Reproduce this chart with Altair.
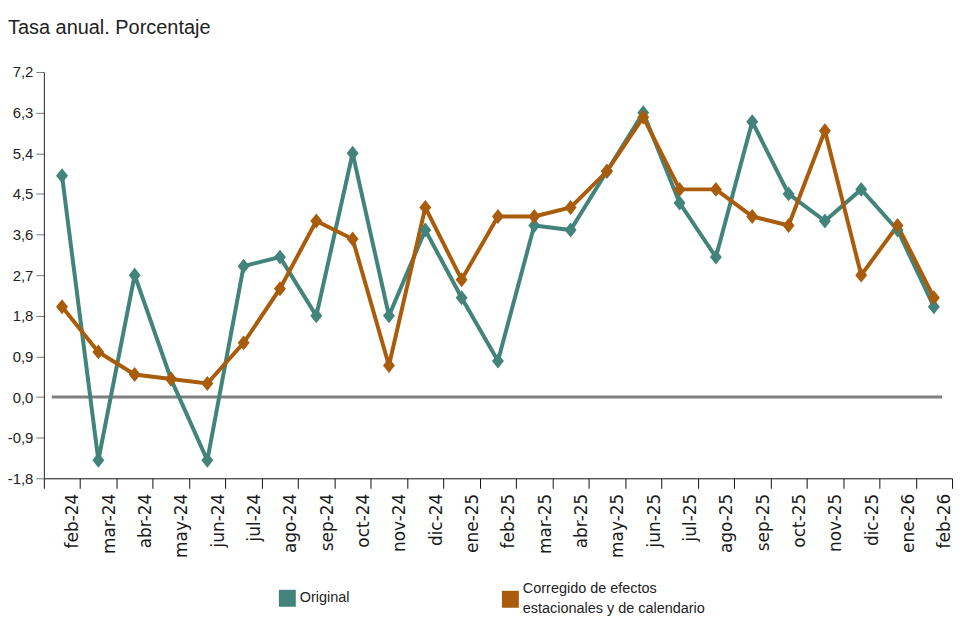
import altair as alt
import pandas as pd

months = ["feb-24", "mar-24", "abr-24", "may-24", "jun-24", "jul-24", "ago-24", "sep-24",
          "oct-24", "nov-24", "dic-24", "ene-25", "feb-25", "mar-25", "abr-25", "may-25",
          "jun-25", "jul-25", "ago-25", "sep-25", "oct-25", "nov-25", "dic-25", "ene-26", "feb-26"]
original = [4.9, -1.4, 2.7, 0.4, -1.4, 2.9, 3.1, 1.8, 5.4, 1.8, 3.7, 2.2, 0.8, 3.8, 3.7,
            5.0, 6.3, 4.3, 3.1, 6.1, 4.5, 3.9, 4.6, 3.7, 2.0]
corregido = [2.0, 1.0, 0.5, 0.4, 0.3, 1.2, 2.4, 3.9, 3.5, 0.7, 4.2, 2.6, 4.0, 4.0, 4.2,
             5.0, 6.2, 4.6, 4.6, 4.0, 3.8, 5.9, 2.7, 3.8, 2.2]
series = ["Original", "Corregido de efectos estacionales y de calendario"]
colors = ["#42837a", "#a85c0c"]
y_ticks = [-1.8, -0.9, 0.0, 0.9, 1.8, 2.7, 3.6, 4.5, 5.4, 6.3, 7.2]

rows = []
for name, vals in zip(series, [original, corregido]):
    for i, (m, v) in enumerate(zip(months, vals)):
        rows.append({"mes": m, "valor": v, "serie": name, "orden": i})
df = pd.DataFrame(rows)

x_enc = alt.X("mes:N", sort=months, bandPosition=0.5,
              scale=alt.Scale(type="band", paddingInner=0, paddingOuter=0),
              axis=alt.Axis(title=None, labelAngle=-90, tickBand="extent", labelFont="DejaVu Sans",
                            labelFontSize=17, labelColor="#1a1a1a", tickSize=10, tickColor="#111",
                            domainColor="#111", labelPadding=5, labelAlign="right",
                            labelBaseline="middle", labelOffset=11))
y_enc = alt.Y("valor:Q", scale=alt.Scale(domain=[-1.8, 7.2], nice=False, zero=False),
              axis=alt.Axis(title=None, values=y_ticks, grid=False,
                            labelExpr="replace(replace(format(datum.value, '.1f'), '.', ','), '\u2212', '-')",
                            labelFont="Liberation Sans", labelFontSize=15, labelColor="#222",
                            tickSize=8, tickColor="#777", domainColor="#222", labelPadding=3))

legend_common = dict(title=None, orient="none", direction="horizontal", symbolType="square",
                     symbolSize=289, symbolStrokeWidth=0, labelFont="Liberation Sans",
                     labelFontSize=14.5, labelColor="#222", labelLimit=300, labelOffset=4,
                     padding=0)

zero = alt.Chart(pd.DataFrame({"cero": [0.0]})).mark_rule(color="#7f7f7f", strokeWidth=3).encode(
    y=alt.Y("cero:Q", scale=alt.Scale(domain=[-1.8, 7.2], nice=False, zero=False)),
    x=alt.value(8), x2=alt.value(902))

lines = alt.Chart(df).mark_line(strokeWidth=4).encode(
    x=x_enc, y=y_enc,
    stroke=alt.Stroke("serie:N", scale=alt.Scale(domain=series[::-1], range=colors[::-1]),
                      legend=alt.Legend(values=[series[1]], legendX=460, legendY=521,
                                        symbolFillColor=colors[1], labelBaseline="line-bottom",
                                        labelExpr="['Corregido de efectos', 'estacionales y de calendario']",
                                        **legend_common)),
    detail="serie:N",
    order="orden:Q")

points = alt.Chart(df).mark_point(filled=True, opacity=1, size=225,
                                  shape="M0,-1L0.8,0L0,1L-0.8,0Z").encode(
    x=x_enc, y=y_enc,
    fill=alt.Fill("serie:N", scale=alt.Scale(domain=series, range=colors),
                  legend=alt.Legend(values=[series[0]], legendX=236, legendY=520,
                                    **legend_common)))

chart = alt.layer(zero, lines, points).properties(
    width=912, height=408,
    autosize=alt.AutoSizeParams(type="none"),
    padding={"left": 36, "top": 63, "right": 10, "bottom": 137},
    title=alt.TitleParams("Tasa anual. Porcentaje", anchor="start", frame="group", dx=-36,
                          offset=27, font="Liberation Sans", fontSize=20, fontWeight="normal",
                          color="#222"),
).configure(style={"guide-label": {"lineHeight": 20}}).configure_view(stroke=None)

chart.save("out.html", embed_options={"renderer": "svg", "actions": False})
